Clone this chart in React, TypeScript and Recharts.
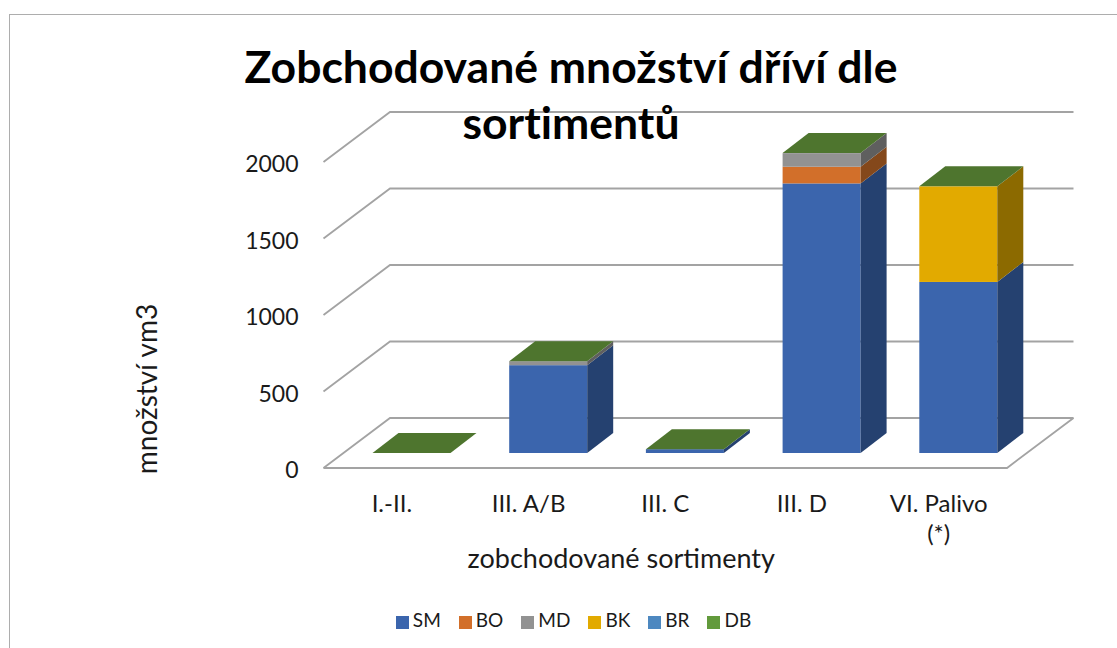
import { Bar, BarChart, CartesianGrid, Legend, XAxis, YAxis } from 'recharts';

const categories = ['I.-II.', 'III. A/B', 'III. C', 'III. D', 'VI. Palivo (*)'];
const sm = [0, 574, 25, 1762, 1118];
const bo = [0, 0, 0, 109, 0];
const md = [0, 26, 0, 89, 0];
const bk = [0, 0, 0, 0, 625];
const br = [0, 0, 0, 0, 0];
const db = [0, 0, 0, 0, 0];
const yTicks = [0, 500, 1000, 1500, 2000];

const rows = categories.map((name, i) => ({
  name,
  SM: sm[i],
  BO: bo[i],
  MD: md[i],
  BK: bk[i],
  BR: br[i],
  DB: db[i]
}));

const FONT = 'Lato, sans-serif';
const GRID = '#a3a3a3';
const WALL = { dx: 66.5, dy: 50 };
const BAR_SHIFT = { dx: 20, dy: 15 };
const BAR_DEPTH = { dx: 26, dy: 20 };

function GridLine({ x1, x2, y1 }: any) {
  return (
    <g fill="none" stroke={GRID} strokeWidth={1.8}>
      <path d={`M${x1},${y1} L${x1 + WALL.dx},${y1 - WALL.dy} L${x2 + WALL.dx},${y1 - WALL.dy}`} />
      {/* the lowest line is the floor, it gets the front edge too */}
      {y1 > 400 ? <path d={`M${x1},${y1} L${x2},${y1} L${x2 + WALL.dx},${y1 - WALL.dy}`} /> : null}
    </g>
  );
}

function Box3D({ x, y, width, height, fill, side, cap }: any) {
  const left = x + BAR_SHIFT.dx;
  const top = y - BAR_SHIFT.dy;
  const { dx, dy } = BAR_DEPTH;
  return (
    <g>
      {height > 0 ? (
        <>
          <rect x={left} y={top} width={width} height={height} fill={fill} />
          <polygon
            points={`${left + width},${top} ${left + width + dx},${top - dy} ${left + width + dx},${top + height - dy} ${left + width},${top + height}`}
            fill={side}
          />
        </>
      ) : null}
      {cap ? (
        <polygon
          points={`${left},${top} ${left + width},${top} ${left + width + dx},${top - dy} ${left + dx},${top - dy}`}
          fill={cap}
        />
      ) : null}
    </g>
  );
}

function CategoryTick({ x, y, payload }: any) {
  // the footnote mark goes on its own line
  const lines = String(payload.value).split(/\s(?=\()/);
  return (
    <text x={x} y={y + 18} textAnchor="middle" fill="#1a1a1a" style={{ fontFamily: FONT, fontSize: 24 }}>
      {lines.map((line, i) => (
        <tspan key={line} x={x} dy={i === 0 ? 0 : 30}>
          {line}
        </tspan>
      ))}
    </text>
  );
}

export default function App() {
  return (
    <div style={{ position: 'absolute', left: 0, top: 0, width: 1117, height: 648, overflow: 'hidden', background: '#fff' }}>
      <div
        style={{
          position: 'absolute',
          left: 9,
          top: 14,
          width: 1200,
          height: 700,
          border: '1.5px solid #adadad'
        }}
      />
      <BarChart
        width={1117}
        height={648}
        data={rows}
        margin={{ top: 162, right: 110, left: 180, bottom: 17 }}
        style={{ position: 'absolute', left: 0, top: 0 }}
      >
        <CartesianGrid vertical={false} horizontal={(props: any) => <GridLine key={props.key} {...props} />} />
        <XAxis
          dataKey="name"
          axisLine={false}
          tickLine={false}
          tickMargin={20}
          height={140}
          interval={0}
          tick={<CategoryTick />}
          label={{
            value: 'zobchodované sortimenty',
            position: 'center',
            dx: -44,
            dy: 20,
            style: { fontFamily: FONT, fontSize: 27, fill: '#1a1a1a' }
          }}
        />
        <YAxis
          width={143.5}
          domain={[0, 2000]}
          ticks={yTicks}
          axisLine={false}
          tickLine={false}
          tickMargin={19}
          tick={{ fontFamily: FONT, fontSize: 23, fill: '#1a1a1a', dy: 2 }}
          label={{
            value: 'množství vm3',
            angle: -90,
            position: 'center',
            dx: -104.75,
            dy: 74,
            style: { fontFamily: FONT, fontSize: 28, fill: '#1a1a1a' }
          }}
        />
        <Legend
          verticalAlign="bottom"
          iconType="square"
          iconSize={13}
          itemSorter={null}
          wrapperStyle={{ fontFamily: FONT, fontSize: 19, left: 169 }}
          formatter={(value: string) => <span style={{ color: '#1a1a1a', marginRight: 8 }}>{value}</span>}
        />
        <Bar dataKey="SM" stackId="a" barSize={78} fill="#3b65ad" isAnimationActive={false} shape={<Box3D side="#254170" />} />
        <Bar dataKey="BO" stackId="a" barSize={78} fill="#d26f2a" isAnimationActive={false} shape={<Box3D side="#84481b" />} />
        <Bar dataKey="MD" stackId="a" barSize={78} fill="#929292" isAnimationActive={false} shape={<Box3D side="#5f5f5f" />} />
        <Bar dataKey="BK" stackId="a" barSize={78} fill="#e2aa00" isAnimationActive={false} shape={<Box3D side="#8c6a00" />} />
        <Bar dataKey="BR" stackId="a" barSize={78} fill="#4d88c0" isAnimationActive={false} shape={<Box3D side="#30557a" />} />
        <Bar dataKey="DB" stackId="a" barSize={78} fill="#629a3c" isAnimationActive={false} shape={<Box3D side="#3e6126" cap="#4e752e" />} />
      </BarChart>
      <div
        style={{
          position: 'absolute',
          left: 171,
          top: 38,
          width: 800,
          textAlign: 'center',
          fontFamily: FONT,
          fontWeight: 700,
          fontSize: 44.5,
          lineHeight: '56px',
          fontVariantLigatures: 'none',
          color: '#000'
        }}
      >
        Zobchodované množství dříví dle
        <br />
        sortimentů
      </div>
    </div>
  );
}
